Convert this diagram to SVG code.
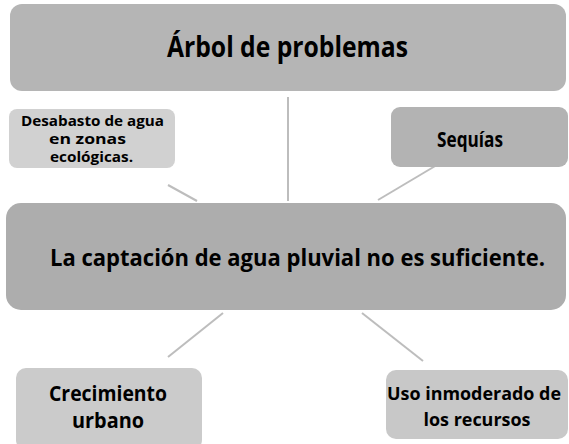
<svg xmlns="http://www.w3.org/2000/svg" width="569" height="444" viewBox="0 0 569 444">
<style>
  .t { font-family: "Open Sans", Lato, "Liberation Sans", sans-serif; font-weight: bold; fill: #000; text-anchor: middle; }
  .c { stroke: #bdbdbd; stroke-width: 2; fill: none; }
</style>
<rect width="569" height="444" fill="#ffffff"/>
<g id="connectors">
  <line class="c" x1="288" y1="97" x2="288" y2="201"/>
  <line class="c" x1="168" y1="185" x2="197" y2="201"/>
  <line class="c" x1="378" y1="200" x2="447" y2="159"/>
  <line class="c" x1="223" y1="313" x2="168" y2="357"/>
  <line class="c" x1="362" y1="313" x2="423" y2="361"/>
</g>
<g id="title">
  <rect x="10" y="4" width="556" height="87" rx="12" fill="#b5b5b5"/>
  <text class="t" x="287.5" y="57" font-size="28" textLength="241" lengthAdjust="spacingAndGlyphs">Árbol de problemas</text>
</g>
<g id="desabasto">
  <rect x="9" y="109" width="166" height="59" rx="8" fill="#d1d1d1"/>
  <text class="t" x="92.5" y="126" font-size="14.5" textLength="143" lengthAdjust="spacingAndGlyphs">Desabasto de agua</text>
  <text class="t" x="87.5" y="144" font-size="14.5" textLength="77" lengthAdjust="spacingAndGlyphs">en zonas</text>
  <text class="t" x="91.5" y="162" font-size="14.5" textLength="83" lengthAdjust="spacingAndGlyphs">ecológicas.</text>
</g>
<g id="sequias">
  <rect x="391" y="107" width="177" height="60" rx="9" fill="#b3b3b3"/>
  <text class="t" x="470" y="147" font-size="21" textLength="66" lengthAdjust="spacingAndGlyphs">Sequías</text>
</g>
<g id="captacion">
  <rect x="6" y="203" width="560" height="107" rx="15" fill="#adadad"/>
  <text class="t" x="297.5" y="266" font-size="23" textLength="495" lengthAdjust="spacingAndGlyphs">La captación de agua pluvial no es suficiente.</text>
</g>
<g id="crecimiento">
  <rect x="16" y="368" width="186" height="82" rx="10" fill="#cbcbcb"/>
  <text class="t" x="108" y="401" font-size="21" textLength="118" lengthAdjust="spacingAndGlyphs">Crecimiento</text>
  <text class="t" x="108" y="428" font-size="21" textLength="72" lengthAdjust="spacingAndGlyphs">urbano</text>
</g>
<g id="uso">
  <rect x="386" y="370" width="182" height="69" rx="10" fill="#c8c8c8"/>
  <text class="t" x="474" y="400" font-size="18.5" textLength="174" lengthAdjust="spacingAndGlyphs">Uso inmoderado de</text>
  <text class="t" x="477" y="426" font-size="18.5" textLength="107" lengthAdjust="spacingAndGlyphs">los recursos</text>
</g>
</svg>
